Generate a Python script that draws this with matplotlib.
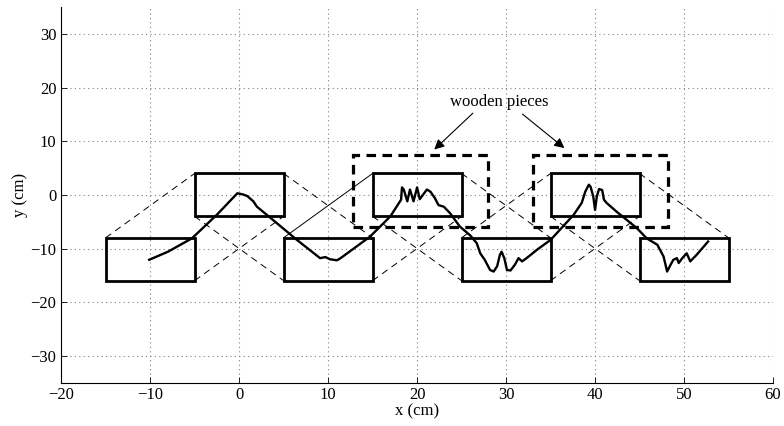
import matplotlib
matplotlib.use('Agg')
import matplotlib.pyplot as plt
from matplotlib.patches import Rectangle

plt.rcParams['font.family'] = ['Liberation Serif', 'DejaVu Serif']
plt.rcParams['font.size'] = 12

# box centres (cm), each box 10 x 8
box_x = [-10, 0, 10, 20, 30, 40, 50]
box_y = [-12, 0, -12, 0, -12, 0, -12]
box_w = 10
box_h = 8

# dashed outlines round the wooden pieces
wood_x0 = [12.75, 33.0]
wood_x1 = [28.0, 48.2]
wood_y0 = [-6.0, -6.0]
wood_y1 = [7.5, 7.5]

# trajectory
traj_x = [-10.1, -8.0, -5.3, -2.5, -0.2, 0.4, 0.9, 1.6, 2.0, 3.1, 6.5, 9.1, 9.7, 10.2,
          11.0, 11.4, 14.7, 17.0, 18.2, 18.3, 18.5, 18.9, 19.2, 19.6, 20.0, 20.3, 21.1,
          21.5, 22.0, 22.4, 23.0, 23.7, 24.8, 26.0, 26.7, 27.1, 27.6, 28.2, 28.6, 29.0,
          29.3, 29.5, 29.8, 30.1, 30.5, 31.0, 31.4, 31.8, 32.3, 33.5, 35.0, 37.6, 38.5,
          38.9, 39.3, 39.5, 39.8, 40.0, 40.2, 40.45, 40.8, 41.0, 41.3, 42.4, 44.7, 45.8,
          47.0, 47.7, 48.1, 48.4, 48.8, 49.2, 49.4, 49.8, 50.3, 50.7, 51.4, 52.7]
traj_y = [-12.1, -10.6, -8.1, -3.7, 0.3, 0.1, -0.2, -1.2, -2.2, -3.7, -8.4, -11.8, -11.6, -12.0,
          -12.2, -11.8, -7.8, -4.0, -0.9, 1.4, 1.0, -1.2, 1.0, -1.2, 1.4, -0.8, 1.0,
          0.6, -0.6, -1.9, -2.2, -3.4, -5.9, -7.6, -9.0, -10.9, -12.1, -14.0, -14.3, -13.3,
          -11.2, -10.6, -11.8, -14.0, -14.1, -13.0, -11.8, -12.4, -11.8, -10.2, -8.4, -3.7, -1.5,
          0.6, 1.9, 1.5, -0.3, -2.8, -0.3, 1.1, 0.9, -0.9, -1.5, -3.1, -6.2, -8.1,
          -9.3, -11.5, -14.3, -13.3, -12.1, -11.8, -12.7, -11.8, -10.9, -12.4, -11.2, -8.7]

label_text = 'wooden pieces'
label_xy = (29.2, 17.3)
arrow_tips = [(21.7, 8.1), (36.8, 8.4)]
arrow_tails = [(26.5, 15.6), (31.6, 15.4)]

fig = plt.figure(figsize=(7.84, 4.26), dpi=100)
ax = fig.add_axes([0.078, 0.102, 0.908, 0.881])

# connecting lines between neighbouring boxes
for i in range(len(box_x) - 1):
    xa, ya, xb, yb = box_x[i], box_y[i], box_x[i + 1], box_y[i + 1]
    hw, hh = box_w / 2, box_h / 2
    if yb > ya:
        pairs = [((xa - hw, ya + hh), (xb - hw, yb + hh)), ((xa + hw, ya - hh), (xb + hw, yb - hh))]
    else:
        pairs = [((xa + hw, ya + hh), (xb + hw, yb + hh)), ((xa - hw, ya - hh), (xb - hw, yb - hh))]
    for k, (p, q) in enumerate(pairs):
        ls = '-' if (i == 2 and k == 0) else (0, (7, 5))
        ax.plot([p[0], q[0]], [p[1], q[1]], color='k', lw=0.7, linestyle=ls, zorder=2)

for cx, cy in zip(box_x, box_y):
    ax.add_patch(Rectangle((cx - box_w / 2, cy - box_h / 2), box_w, box_h,
                           fill=False, ec='k', lw=2.0, zorder=3))

for x0, x1, y0, y1 in zip(wood_x0, wood_x1, wood_y0, wood_y1):
    ax.add_patch(Rectangle((x0, y0), x1 - x0, y1 - y0, fill=False, ec='k', lw=2.3,
                           linestyle=(0, (3, 2.0)), zorder=3))

ax.plot(traj_x, traj_y, color='k', lw=1.7, zorder=4)

ax.text(label_xy[0], label_xy[1], label_text, ha='center', va='center', fontsize=12)
for tip, tail in zip(arrow_tips, arrow_tails):
    ax.annotate('', xy=tip, xytext=tail,
                arrowprops=dict(arrowstyle='-|>', color='k', lw=0.8, mutation_scale=15))

ax.set_xlim(-20, 60)
ax.set_ylim(-35, 35)
ax.set_xticks(range(-20, 61, 10))
ax.set_yticks(range(-30, 31, 10))
ax.set_xticklabels([str(v).replace('-', '\u2212') for v in range(-20, 61, 10)])
ax.set_yticklabels([str(v).replace('-', '\u2212') for v in range(-30, 31, 10)])
ax.grid(True, linestyle=(0, (1, 3)), color='0.5', lw=0.8)
ax.tick_params(direction='in', length=4, width=0.6)
ax.spines['top'].set_visible(False)
ax.spines['right'].set_visible(False)
ax.set_xlabel('x (cm)', labelpad=0)
ax.set_ylabel('y (cm)', labelpad=2)

fig.savefig('out.png', dpi=100)
